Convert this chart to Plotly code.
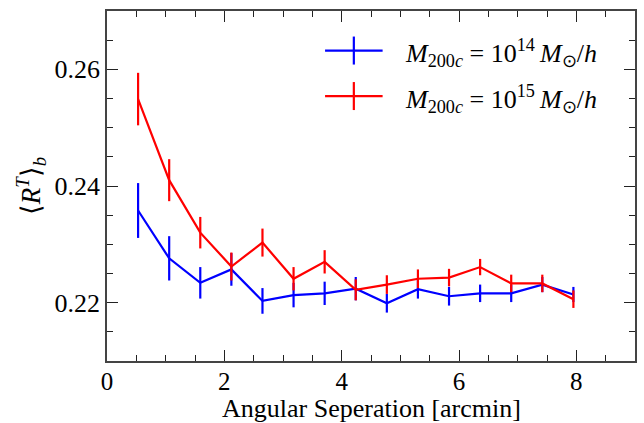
import plotly.graph_objects as go

# Data
sep = [0.53, 1.06, 1.59, 2.12, 2.65, 3.18, 3.71, 4.24, 4.77, 5.30, 5.83, 6.36, 6.89, 7.42, 7.95]
r14 = [0.2358, 0.2276, 0.2234, 0.2257, 0.2203, 0.2213, 0.2216, 0.2224, 0.2199, 0.2223, 0.2211, 0.2216, 0.2216, 0.2231, 0.2214]
e14 = [0.0047, 0.0038, 0.0027, 0.0028, 0.0022, 0.0021, 0.0020, 0.0020, 0.0016, 0.0016, 0.0016, 0.0015, 0.0015, 0.0013, 0.0013]
r15 = [0.2549, 0.2410, 0.2320, 0.2262, 0.2303, 0.2241, 0.2270, 0.2222, 0.2231, 0.2241, 0.2243, 0.2261, 0.2233, 0.2233, 0.2206]
e15 = [0.0045, 0.0036, 0.0027, 0.0024, 0.0024, 0.0020, 0.0020, 0.0018, 0.0016, 0.0016, 0.0015, 0.0014, 0.0015, 0.0015, 0.0015]

labels = ["<i>M</i><sub>200<i>c</i></sub> = 10<sup>14</sup>\u2009<i>M</i><sub>⊙</sub>/<i>h</i>",
          "<i>M</i><sub>200<i>c</i></sub> = 10<sup>15</sup>\u2009<i>M</i><sub>⊙</sub>/<i>h</i>"]
colors = ["#0000ff", "#ff0000"]
x_ticks = [0, 2, 4, 6, 8]
y_ticks = [0.22, 0.24, 0.26]
x_title = "Angular Seperation [arcmin]"

FONT = "Liberation Serif"

fig = go.Figure()
for yv, ev, col, lab in [(r14, e14, colors[0], labels[0]), (r15, e15, colors[1], labels[1])]:
    fig.add_trace(go.Scatter(
        x=sep, y=yv, mode="lines", name=lab,
        line=dict(color=col, width=2.2),
        error_y=dict(type="data", array=ev, visible=True, color=col, thickness=2.2, width=0),
        showlegend=False,
    ))

axis_common = dict(
    showline=True, linecolor="#444444", linewidth=1.5, mirror="ticks",
    ticks="inside", ticklen=11, tickwidth=1.2, tickcolor="#222222",
    showgrid=False, zeroline=False,
)

fig.update_xaxes(
    range=[0, 9], tickvals=x_ticks, ticktext=[str(v) for v in x_ticks],
    tickfont=dict(family=FONT, size=25, color="black"), ticklabelstandoff=-3,
    minor=dict(dtick=0.5, tick0=0, ticks="inside", ticklen=6, tickwidth=1.2, tickcolor="#222222"),
    **axis_common,
)
fig.update_yaxes(
    range=[0.21, 0.27], tickvals=y_ticks, ticktext=["%.2f" % v for v in y_ticks],
    tickfont=dict(family=FONT, size=26, color="black"),
    minor=dict(dtick=0.005, tick0=0.21, ticks="inside", ticklen=6, tickwidth=1.2, tickcolor="#222222"),
    title=dict(text="⟨<i>R</i><sup><i>T</i></sup>⟩<sub><i>b</i></sub>", font=dict(family=FONT, size=27, color="black"), standoff=6),
    **axis_common,
)

# x-axis title as an annotation at the bottom of the figure
fig.add_annotation(xref="paper", yref="paper", x=0.5, y=-63 / 350, xanchor="center", yanchor="bottom",
                   text=x_title, showarrow=False, font=dict(family=FONT, size=26, color="black"),
                   borderpad=0)

# Manual legend (line sample with error-bar tick, plus label)
leg_y = [0.887, 0.757]  # paper coords
for i in range(2):
    y = leg_y[i]
    fig.add_shape(type="line", xref="paper", yref="paper", x0=0.413, x1=0.522, y0=y, y1=y,
                  line=dict(color=colors[i], width=2.2))
    fig.add_shape(type="line", xref="paper", yref="paper", x0=0.4675, x1=0.4675, y0=y - 0.04, y1=y + 0.04,
                  line=dict(color=colors[i], width=2.2))
    fig.add_annotation(xref="paper", yref="paper", x=0.56, y=y - 0.008, xanchor="left", yanchor="middle",
                       text=labels[i], showarrow=False, font=dict(family=FONT, size=26, color="black"))

fig.update_layout(
    width=644, height=423,
    margin=dict(l=107, r=7, t=11, b=62),
    paper_bgcolor="white", plot_bgcolor="white",
    font=dict(family=FONT, color="black"),
)

fig.write_html("out.html")
